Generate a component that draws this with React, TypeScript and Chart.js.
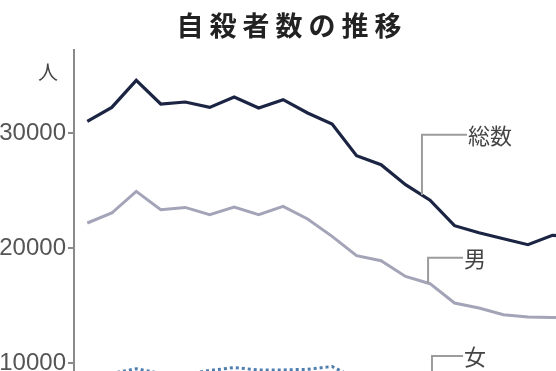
import React, { useEffect, useRef } from "react";
import { Chart, registerables } from "chart.js";

Chart.register(...registerables);

const title = "自殺者数の推移";
const unitLabel = "人";
const seriesNames = ["総数", "男", "女"];
const years = [2001, 2002, 2003, 2004, 2005, 2006, 2007, 2008, 2009, 2010, 2011, 2012, 2013, 2014, 2015, 2016, 2017, 2018, 2019, 2020, 2021];
const totalValues = [31009, 32226, 34574, 32522, 32696, 32226, 33130, 32174, 32896, 31739, 30783, 28026, 27243, 25504, 24157, 21939, 21330, 20809, 20287, 21100, 21007];
const maleValues = [22174, 23043, 24922, 23330, 23530, 22896, 23565, 22896, 23617, 22522, 21009, 19330, 18896, 17530, 16896, 15217, 14783, 14200, 14000, 13965, 13940];
const femaleValues = [8900, 9100, 9500, 9100, 9000, 9350, 9600, 9400, 9400, 9450, 9700, 8600, 8500, 8050, 7350, 6800, 6500, 6550, 6100, 7000, 7050];
const yTickValues = [10000, 20000, 30000];

function interp(values: number[], xv: number): number {
  const i = Math.floor(xv - years[0]);
  const f = xv - years[0] - i;
  const a = values[Math.max(0, Math.min(values.length - 1, i))];
  const b = values[Math.max(0, Math.min(values.length - 1, i + 1))];
  return a + (b - a) * f;
}

const leaderPlugin = {
  id: "leaders",
  afterDatasetsDraw(chart: any) {
    const { ctx, scales, chartArea } = chart;
    const x = scales.x;
    const y = scales.y;
    ctx.save();
    ctx.strokeStyle = "#9c9c9c";
    ctx.lineWidth = 2;
    ctx.fillStyle = "#444";
    ctx.font = '22px "Noto Sans CJK JP"';
    ctx.textBaseline = "middle";
    ctx.textAlign = "left";
    const draw = (xv: number, topVal: number, botVal: number, endVal: number, text: string) => {
      const px = x.getPixelForValue(xv);
      const pt = y.getPixelForValue(topVal);
      const pb = y.getPixelForValue(botVal);
      const pe = x.getPixelForValue(endVal);
      ctx.beginPath();
      ctx.moveTo(px, pb);
      ctx.lineTo(px, pt);
      ctx.lineTo(pe, pt);
      ctx.stroke();
      ctx.fillText(text, pe + 1, pt + 1);
    };
    draw(2014.67, 29850, interp(totalValues, 2014.67), 2016.51, seriesNames[0]);
    draw(2014.92, 19157, interp(maleValues, 2014.92), 2016.35, seriesNames[1]);
    draw(2015.08, 10609, interp(femaleValues, 2015.08), 2016.35, seriesNames[2]);
    ctx.font = '20px "Noto Sans CJK JP"';
    ctx.textAlign = "center";
    ctx.fillText(unitLabel, chartArea.left - 26, chartArea.top + 22);
    ctx.restore();
  },
};

export default function App() {
  const ref = useRef<HTMLCanvasElement | null>(null);
  useEffect(() => {
    document.body.style.margin = "0";
    const mk = (vals: number[]) => years.map((yr, i) => ({ x: yr, y: vals[i] }));
    const chart = new Chart(ref.current as HTMLCanvasElement, {
      type: "line",
      data: {
        datasets: [
          { label: seriesNames[2], data: mk(femaleValues), borderColor: "#4f7fae", borderWidth: 3, borderDash: [3, 3], pointRadius: 0, tension: 0 },
          { label: seriesNames[1], data: mk(maleValues), borderColor: "#a4a4b8", borderWidth: 3, pointRadius: 0, tension: 0 },
          { label: seriesNames[0], data: mk(totalValues), borderColor: "#1b2442", borderWidth: 3.2, pointRadius: 0, tension: 0 },
        ],
      },
      options: {
        animation: false,
        responsive: true,
        maintainAspectRatio: false,
        layout: { padding: { top: 50, left: 0, right: 0, bottom: 0 } },
        plugins: { legend: { display: false }, tooltip: { enabled: false }, title: { display: false } },
        scales: {
          x: { type: "linear", display: false, min: 2000.457, max: 2022.76 },
          y: {
            type: "linear",
            min: 0,
            max: 37217,
            afterBuildTicks: (s: any) => {
              s.ticks = yTickValues.map((v) => ({ value: v }));
            },
            afterFit: (s: any) => {
              s.width = 74;
              s.paddingTop = 0;
              s.paddingBottom = 0;
            },
            border: { display: true, color: "#8a8a8a", width: 2 },
            grid: { display: true, drawOnChartArea: false, drawTicks: true, tickLength: 6, color: "#8a8a8a", lineWidth: 2 },
            ticks: {
              padding: 2,
              color: "#555",
              font: { family: '"Liberation Sans Narrow", "Liberation Sans", sans-serif', size: 24 },
              callback: (v: any) => String(v),
            },
          },
        },
      },
      plugins: [leaderPlugin],
    });
    return () => chart.destroy();
  }, []);

  return (
    <div style={{ position: "relative", width: 556, height: 371, overflow: "hidden", background: "#fff" }}>
      <div
        style={{
          position: "absolute",
          left: 3,
          top: 8,
          width: 578,
          textAlign: "center",
          fontFamily: '"Noto Sans CJK JP", sans-serif',
          fontWeight: 700,
          fontSize: 27,
          lineHeight: "34px",
          letterSpacing: 6,
          color: "#222",
          zIndex: 2,
        }}
      >
        {title}
      </div>
      <div style={{ position: "absolute", left: 0, top: 0, width: 620, height: 478 }}>
        <canvas ref={ref} />
      </div>
    </div>
  );
}
